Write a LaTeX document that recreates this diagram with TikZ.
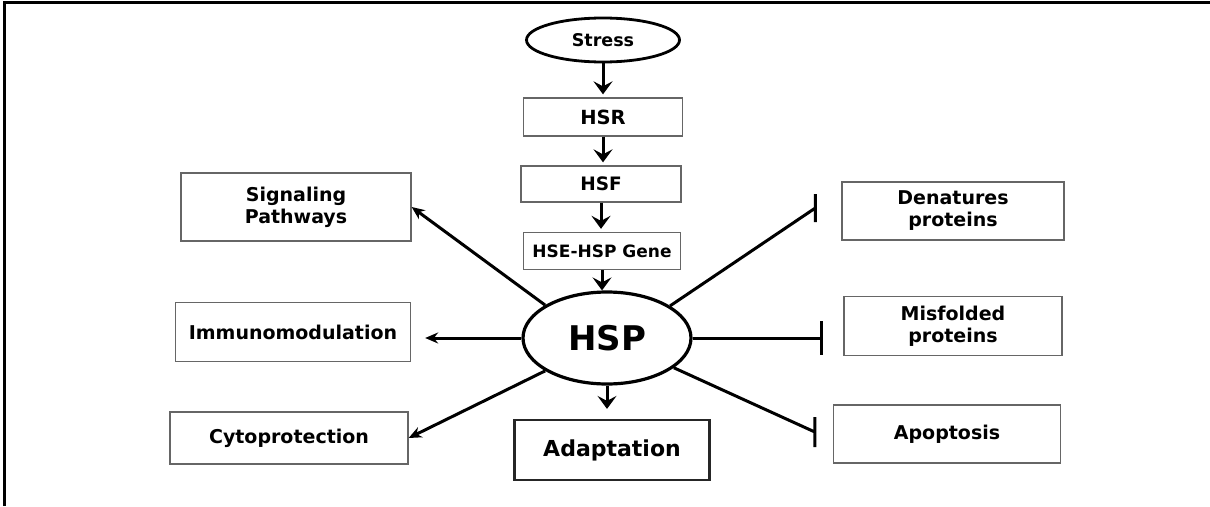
\documentclass[tikz,border=0pt]{standalone}
\usepackage{fontspec}
\setmainfont{DejaVu Sans}
\usetikzlibrary{arrows.meta,calc,shapes.geometric}

\newcommand{\lblfont}[1]{\fontsize{#1}{22}\selectfont\bfseries}

\tikzset{
  box/.style={draw=black!60, line width=1.3pt, inner sep=0pt, align=center, font=\lblfont{19}},
  flow/.style={line width=3pt, -{Stealth[length=13pt,width=19pt,inset=5pt]}, shorten >=3pt},
  side/.style={line width=3pt, -{Stealth[length=13pt,width=11pt]}},
  block/.style={line width=3pt}
}

\begin{document}
\begin{tikzpicture}[x=1pt, y=1pt]
  \useasboundingbox (0,0) rectangle (1210,-506);
  % frame
  \draw[line width=3pt] (4,-506) -- (4,-2) -- (1210,-2);

  % the central chain
  \node[ellipse, draw, line width=2.8pt, minimum width=153pt, minimum height=44pt, inner sep=0pt,
        font=\lblfont{17.5}] (stress) at (603,-40) {Stress};
  \node[box, minimum width=159pt, minimum height=38pt, font=\lblfont{19.5}] (hsr) at (603,-117) {HSR};
  \node[box, minimum width=160pt, minimum height=36pt, font=\lblfont{18.5}] (hsf) at (601,-184) {HSF};
  \node[box, minimum width=157pt, minimum height=37pt, font=\lblfont{17}] (hse) at (602,-251) {HSE-HSP Gene};
  \node[ellipse, draw, line width=3.2pt, minimum width=168pt, minimum height=92pt, inner sep=0pt,
        font=\lblfont{34}] (hsp) at (607,-338) {HSP};
  \node[box, draw=black!85, line width=2.2pt, minimum width=195pt, minimum height=60pt,
        font=\lblfont{22}] (adapt) at (612,-450) {Adaptation};

  % left side
  \node[box, minimum width=230pt, minimum height=68pt] (sig) at (296,-207) {Signaling\\Pathways};
  \node[box, minimum width=235pt, minimum height=59pt] (imm) at (293,-332) {Immunomodulation};
  \node[box, minimum width=238pt, minimum height=52pt] (cyto) at (289,-438) {Cytoprotection};

  % right side
  \node[box, minimum width=222pt, minimum height=58pt] (den) at (953,-211) {Denatures\\proteins};
  \node[box, minimum width=218pt, minimum height=59pt] (mis) at (953,-326) {Misfolded\\proteins};
  \node[box, minimum width=227pt, minimum height=58pt] (apo) at (947,-434) {Apoptosis};

  % where the blocking bars sit
  \coordinate (denbar) at ($(den.west)+(-26,3)$);
  \coordinate (misbar) at ([xshift=-22pt]mis.west |- hsp.east);
  \coordinate (apobar) at ($(apo.west)+(-18,2)$);

  % arrows down the chain
  \draw[flow] (stress.south) -- (stress.south |- hsr.north);
  \draw[flow] (hsr.south) -- (hsr.south |- hsf.north);
  \draw[flow] (hsf.south) -- (hsf.south |- hse.north);
  \draw[flow, shorten >=0pt] (hse.south) -- (hse.south |- hsp.north);
  \draw[flow, shorten >=10pt] (hsp.south) -- (hsp.south |- adapt.north);

  % effects of HSP
  \draw[side] (hsp.152) -- (sig.east);
  \draw[side, shorten >=14pt] (hsp.west) -- (hsp.west -| imm.east);
  \draw[side] (hsp.208) -- (cyto.east);
  \draw[block] (hsp.27) -- (denbar) ++(0,14) -- ++(0,-28);
  \draw[block] (hsp.east) -- (misbar) ++(0,17) -- ++(0,-34);
  \draw[block] (hsp.-24) -- (apobar) ++(0,15) -- ++(0,-30);
\end{tikzpicture}
\end{document}
